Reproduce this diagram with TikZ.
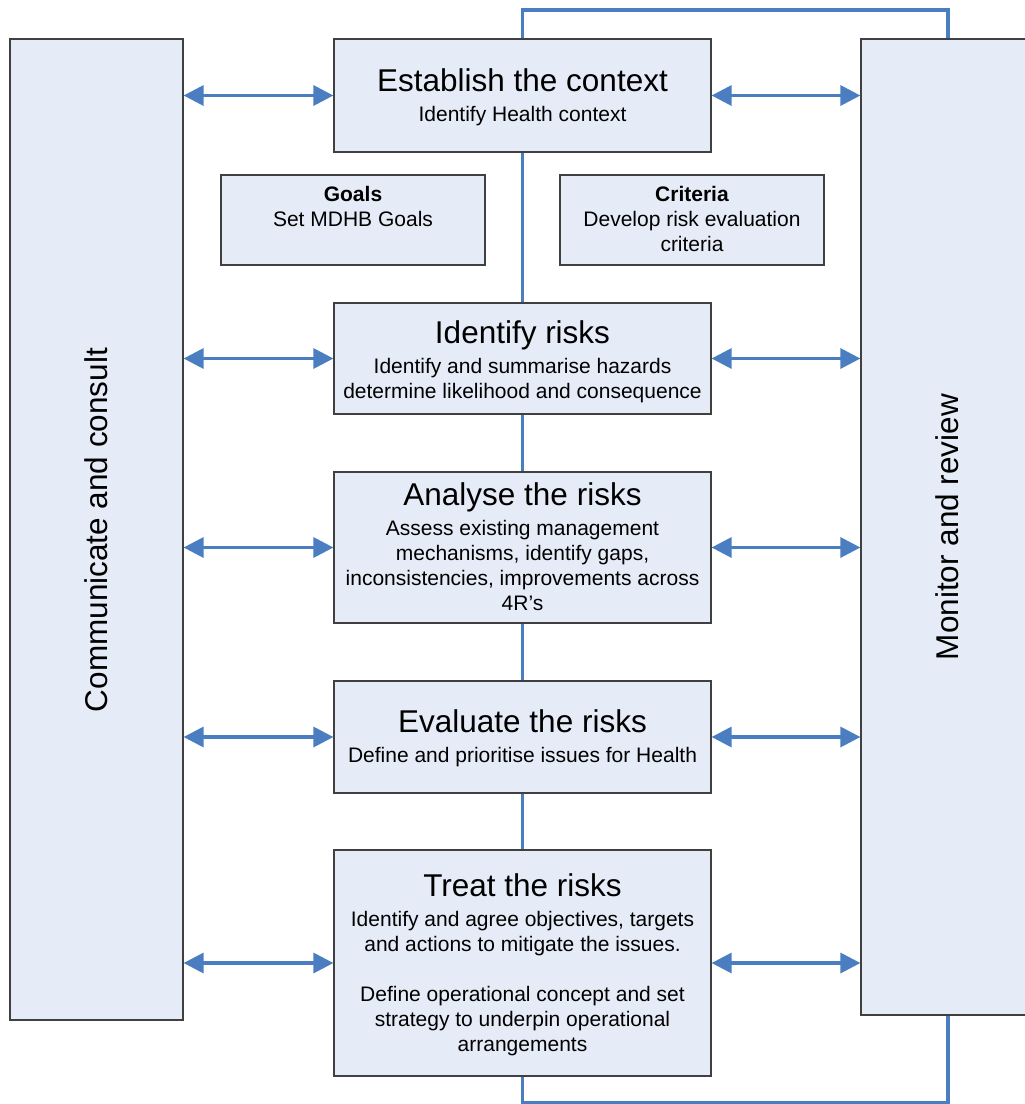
\documentclass[tikz,border=0pt]{standalone}
\usepackage{fontspec}
\setmainfont{Liberation Sans}
\usetikzlibrary{arrows.meta}
\definecolor{boxfill}{RGB}{230,236,247}
\definecolor{boxline}{RGB}{64,64,64}
\definecolor{flow}{RGB}{74,126,193}

\begin{document}
\begin{tikzpicture}[x=1pt,y=-1pt,
  box/.style={draw=boxline, fill=boxfill, line width=1.2pt, inner sep=0pt, rectangle},
  heading/.style={font=\fontsize{31.5}{36}\selectfont, inner sep=0pt, anchor=base},
  body/.style={font=\fontsize{21}{25}\selectfont, inner sep=0pt, anchor=base},
  link/.style={draw=flow, line width=3.2pt},
  twoway/.style={link, {Triangle[length=20pt,width=20pt]}-{Triangle[length=20pt,width=20pt]}},
]
\useasboundingbox (0,0) rectangle (1025,1104);
\clip (0,0) rectangle (1025,1104);

% side panels
\node[box, minimum width=173pt, minimum height=981pt] (comm) at (96.5,529.5) {};
\node[box, minimum width=174pt, minimum height=976pt] (mon) at (948,527) {};

% process steps
\node[box, minimum width=377pt, minimum height=113pt] (est) at (522.5,95.5) {};
\node[box, minimum width=264pt, minimum height=90pt] (goals) at (353,220) {};
\node[box, minimum width=264pt, minimum height=90pt] (crit) at (692,220) {};
\node[box, minimum width=377pt, minimum height=111pt] (idr) at (522.5,358.5) {};
\node[box, minimum width=377pt, minimum height=151pt] (ana) at (522.5,547.5) {};
\node[box, minimum width=377pt, minimum height=112pt] (eva) at (522.5,737) {};
\node[box, minimum width=377pt, minimum height=226pt] (trt) at (522.5,963) {};

% vertical chain and review loop
\coordinate (topy) at (0,10);
\coordinate (boty) at (0,1103);
\draw[link] (est) -- (idr);
\draw[link] (idr) -- (ana);
\draw[link] (ana) -- (eva);
\draw[link] (eva) -- (trt);
\draw[link] (est.north) -- (est.north |- topy) -| (mon.north);
\draw[link] (trt.south) -- (trt.south |- boty) -| (mon.south);

% two-way arrows to the side panels
\foreach \s in {est,idr,ana,eva,trt}{
  \draw[twoway] (comm.east |- \s.west) -- (\s.west);
  \draw[twoway] (\s.east) -- (mon.west |- \s.east);
}

% side panel labels
\node[heading, anchor=center, rotate=90] (commT) at (96.5,530) {Communicate and consult};
\node[heading, anchor=center, rotate=90] (monT) at (947.5,527) {Monitor and review};

% step texts
\node[heading] (estT) at (522.5,91) {Establish the context};
\node[body] (estB) at (522.5,121) {Identify Health context};

\node[body, font=\fontsize{21}{25}\selectfont\bfseries] (goalsT) at (353,201) {Goals};
\node[body] (goalsB) at (353,226) {Set MDHB Goals};

\node[body, font=\fontsize{21}{25}\selectfont\bfseries] (critT) at (692,201) {Criteria};
\node[body] (critB1) at (692,226) {Develop risk evaluation};
\node[body] (critB2) at (692,251) {criteria};

\node[heading] (idrT) at (522.5,343) {Identify risks};
\node[body] (idrB1) at (522.5,373) {Identify and summarise hazards};
\node[body] (idrB2) at (522.5,398) {determine likelihood and consequence};

\node[heading] (anaT) at (522.5,505.5) {Analyse the risks};
\node[body] (anaB1) at (522.5,535.5) {Assess existing management};
\node[body] (anaB2) at (522.5,560.5) {mechanisms, identify gaps,};
\node[body] (anaB3) at (522.5,585.5) {inconsistencies, improvements across};
\node[body] (anaB4) at (522.5,610.5) {4R’s};

\node[heading] (evaT) at (522.5,732.5) {Evaluate the risks};
\node[body] (evaB) at (522.5,762.5) {Define and prioritise issues for Health};

\node[heading] (trtT) at (522.5,896) {Treat the risks};
\node[body] (trtB1) at (522.5,926) {Identify and agree objectives, targets};
\node[body] (trtB2) at (522.5,951) {and actions to mitigate the issues.};
\node[body] (trtB3) at (522.5,1001) {Define operational concept and set};
\node[body] (trtB4) at (522.5,1026) {strategy to underpin operational};
\node[body] (trtB5) at (522.5,1051) {arrangements};
\end{tikzpicture}
\end{document}
